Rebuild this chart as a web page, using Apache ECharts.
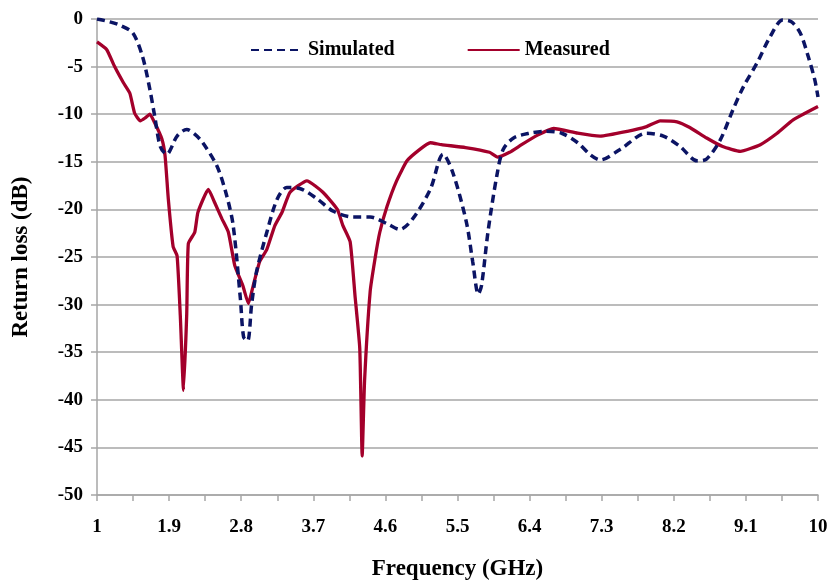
<!DOCTYPE html>
<html>
<head>
<meta charset="utf-8">
<script src="https://cdn.jsdelivr.net/npm/echarts@6/dist/echarts.min.js"></script>
<style>
  html, body { margin: 0; padding: 0; background: #fff; }
  #chart { width: 831px; height: 586px; }
</style>
</head>
<body>
<div id="chart"></div>
<script>
// Return loss of the antenna, simulated vs measured (GHz, dB)
const simFreq = [1.0, 1.16, 1.3, 1.45, 1.57, 1.66, 1.72, 1.79, 1.87, 2.0, 2.12, 2.22, 2.32, 2.5, 2.62, 2.7, 2.79, 2.83, 2.88, 2.93, 2.99, 3.12, 3.25, 3.37, 3.53, 3.75, 3.95, 4.2, 4.41, 4.62, 4.78, 4.94, 5.16, 5.32, 5.44, 5.61, 5.69, 5.76, 5.8, 5.88, 5.99, 6.07, 6.2, 6.4, 6.6, 6.8, 7.0, 7.15, 7.28, 7.53, 7.86, 8.07, 8.28, 8.49, 8.61, 8.78, 8.94, 9.07, 9.24, 9.4, 9.56, 9.67, 9.78, 9.88, 9.96, 10.0];
const simLoss = [0, -0.3, -0.7, -1.5, -4, -7.4, -10.2, -13.4, -14.2, -12.3, -11.6, -12.1, -13, -15.5, -18.6, -21.7, -29.4, -33.4, -33.8, -30, -26.6, -22.4, -18.9, -17.7, -17.8, -18.9, -20.2, -20.8, -20.8, -21.5, -22.1, -21, -17.9, -14.2, -16.1, -21.3, -25.5, -28.9, -28, -22.4, -16.5, -13.7, -12.5, -12, -11.8, -12, -13, -14.2, -14.8, -13.7, -12, -12.3, -13.4, -14.9, -14.7, -12.7, -9.5, -7.1, -4.6, -1.9, -0.1, -0.3, -1.5, -4, -6.4, -8.2];

const measFreq = [1.0, 1.12, 1.22, 1.33, 1.41, 1.47, 1.54, 1.6, 1.66, 1.72, 1.81, 1.85, 1.89, 1.95, 2.0, 2.04, 2.08, 2.12, 2.14, 2.22, 2.26, 2.39, 2.47, 2.56, 2.64, 2.72, 2.82, 2.89, 2.95, 3.03, 3.12, 3.22, 3.31, 3.41, 3.62, 3.82, 4.0, 4.07, 4.16, 4.22, 4.28, 4.31, 4.34, 4.41, 4.47, 4.53, 4.62, 4.74, 4.87, 5.03, 5.16, 5.3, 5.6, 5.9, 6.0, 6.15, 6.3, 6.5, 6.7, 7.0, 7.28, 7.62, 7.86, 8.03, 8.24, 8.4, 8.61, 8.81, 9.03, 9.28, 9.49, 9.69, 10.0];
const measLoss = [-2.4, -3.2, -5, -6.7, -7.8, -9.9, -10.7, -10.4, -10, -10.9, -12.6, -14.4, -18.9, -23.9, -24.9, -31.2, -39, -31, -23.6, -22.4, -20.3, -17.9, -19.3, -21, -22.4, -25.9, -28, -29.9, -28, -25.5, -24.2, -21.7, -20.3, -18.2, -17, -18.2, -20, -21.7, -23.4, -29, -34.6, -45.9, -38, -28.6, -25.2, -22.4, -19.7, -17, -14.9, -13.7, -13, -13.2, -13.5, -14, -14.5, -14, -13.2, -12.2, -11.5, -12, -12.3, -11.8, -11.3, -10.7, -10.8, -11.4, -12.5, -13.4, -13.9, -13.2, -12, -10.6, -9.2];

// Frequency axis: labelled every 0.9 GHz, ticked every 0.45 GHz
const freqLabels = [1, 1.9, 2.8, 3.7, 4.6, 5.5, 6.4, 7.3, 8.2, 9.1, 10];
const freqTicks = [1, 1.45, 1.9, 2.35, 2.8, 3.25, 3.7, 4.15, 4.6, 5.05, 5.5, 5.95, 6.4, 6.85, 7.3, 7.75, 8.2, 8.65, 9.1, 9.55, 10];

const pair = (xs, ys) => xs.map((x, i) => [x, ys[i]]);
const serif = '"Liberation Serif", "Times New Roman", serif';
const gridGrey = '#a6a6a6';

const chart = echarts.init(document.getElementById('chart'), null, { renderer: 'canvas' });
chart.setOption({
  backgroundColor: '#ffffff',
  animation: false,
  grid: { left: 97, right: 13, top: 19, bottom: 90 },
  legend: {
    top: 35,
    left: 245,
    itemWidth: 52,
    itemHeight: 14,
    itemGap: 72,
    itemStyle: { opacity: 0 },
    textStyle: { fontFamily: serif, fontWeight: 'bold', fontSize: 20, color: '#000' },
    data: ['Simulated', 'Measured']
  },
  xAxis: {
    type: 'value',
    min: 1,
    max: 10,
    name: 'Frequency (GHz)',
    nameLocation: 'middle',
    nameGap: 63,
    nameTextStyle: { fontFamily: serif, fontWeight: 'bold', fontSize: 23, color: '#000' },
    axisLine: { onZero: false, lineStyle: { color: gridGrey, width: 1.5 } },
    axisTick: { show: true, length: 6, customValues: freqTicks, lineStyle: { color: gridGrey, width: 1.5 } },
    axisLabel: {
      customValues: freqLabels,
      margin: 23,
      fontFamily: serif, fontWeight: 'bold', fontSize: 19, color: '#000',
      formatter: v => String(Math.round(v * 10) / 10)
    },
    splitLine: { show: false }
  },
  yAxis: {
    type: 'value',
    min: -50,
    max: 0,
    interval: 5,
    name: 'Return loss (dB)',
    nameLocation: 'middle',
    nameGap: 64,
    nameTextStyle: { fontFamily: serif, fontWeight: 'bold', fontSize: 23, color: '#000' },
    axisLine: { show: true, lineStyle: { color: gridGrey, width: 1.5 } },
    axisTick: { show: true, length: 6, lineStyle: { color: gridGrey, width: 1.5 } },
    axisLabel: { margin: 14, fontFamily: serif, fontWeight: 'bold', fontSize: 19, color: '#000' },
    splitLine: { show: true, lineStyle: { color: gridGrey, width: 1.5 } }
  },
  series: [
    {
      name: 'Simulated',
      type: 'line',
      data: pair(simFreq, simLoss),
      symbol: 'none',
      smooth: 0.3,
      color: '#0b1464',
      lineStyle: { color: '#0b1464', width: 3.5, type: [8, 5] },
      z: 3
    },
    {
      name: 'Measured',
      type: 'line',
      data: pair(measFreq, measLoss),
      symbol: 'none',
      smooth: 0.15,
      color: '#a3002b',
      lineStyle: { color: '#a3002b', width: 3.3 },
      z: 2
    }
  ]
});
</script>
</body>
</html>
